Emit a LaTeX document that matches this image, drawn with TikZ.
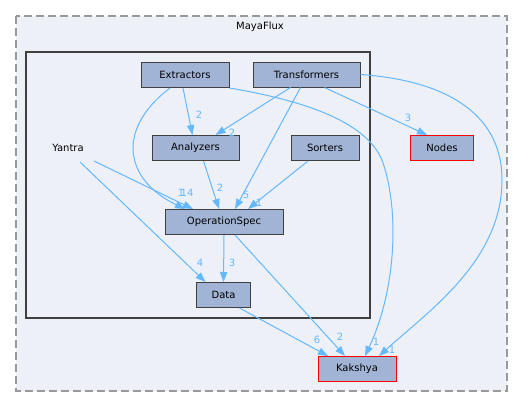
\documentclass[tikz,border=0pt]{standalone}
\usepackage{fontspec}
\setmainfont{DejaVu Sans}
\usetikzlibrary{arrows.meta,calc}

\definecolor{dirfill}{HTML}{A2B4D6}
\definecolor{dirline}{HTML}{404040}
\definecolor{clusterbg}{HTML}{EDF0F7}
\definecolor{edgeblue}{HTML}{63B8FF}
\definecolor{dashgray}{HTML}{999999}

\tikzset{every picture/.style={line width=0.75pt}}
\tikzset{
  dirbox/.style={draw=dirline, fill=dirfill, minimum height=18.75pt, inner sep=0pt, font=\fontsize{7.5}{9}\selectfont},
  redbox/.style={dirbox, draw=red},
  dep/.style={draw=edgeblue, -{Triangle[length=7.5pt,width=5.5pt]}},
  lbl/.style={text=edgeblue, inner sep=0pt, font=\fontsize{7.5}{9}\selectfont}
}

\begin{document}
\begin{tikzpicture}[x=0.75pt,y=0.75pt,yscale=-1,xscale=1]
\path[use as bounding box] (0,0) rectangle (528,408);

%Shape: Rectangle outer cluster
\draw [dashgray, fill=clusterbg, line width=1pt, dash pattern={on 6pt off 3pt}] (16,16) rectangle (507,391) ;
% Text Node
\node [font=\fontsize{7.5}{9}\selectfont] (mayaflux) at (260,27) {MayaFlux};
%Shape: Rectangle inner cluster
\draw [dirline, fill=clusterbg, line width=1.5pt] (26,52) rectangle (370,318) ;

% Text Node
\node [font=\fontsize{7.5}{9}\selectfont] (yan) at (68,148) {Yantra};
% Dir Nodes
\node [dirbox, minimum width=66pt] (ext) at (185,75) {Extractors};
\node [dirbox, minimum width=80.25pt] (trf) at (306.5,74.5) {Transformers};
\node [dirbox, minimum width=65.25pt] (ana) at (195.5,148) {Analyzers};
\node [dirbox, minimum width=51pt] (srt) at (325,148) {Sorters};
\node [dirbox, minimum width=88.5pt] (ops) at (224,222) {OperationSpec};
\node [dirbox, minimum width=40.5pt] (dat) at (223.5,295) {Data};
\node [redbox, minimum width=47.25pt] (nod) at (442,148) {Nodes};
\node [redbox, minimum width=58.5pt] (kak) at (357,369) {Kakshya};

%Straight Lines
\draw [dep] ($(ext.south)+(-2,0)$) -- ($(ana.north)+(-3,0)$) ;
\draw [dep] ($(trf.south)+(-16,0)$) -- ($(ana.north)+(20,0)$) ;
\draw [dep] ($(trf.south)+(18,0)$) -- ($(nod.north)+(-15,0)$) ;
\draw [dep] ($(ana.south)+(8,0)$) -- ($(ops.north)+(-5,0)$) ;
\draw [dep] ($(trf.south)+(-6,0)$) -- ($(ops.north)+(11,0)$) ;
\draw [dep] ($(srt.south)+(-17,0)$) -- ($(ops.north)+(24,0)$) ;
\draw [dep] ($(yan)+(26,13)$) -- ($(ops.north)+(-31,0)$) ;
\draw [dep] ($(yan)+(12,14)$) -- ($(dat.north)+(-18,0)$) ;
\draw [dep] (ops.south) -- (dat.north) ;
\draw [dep] ($(ops.south)+(11,0)$) -- ($(kak.north)+(-12,0)$) ;
\draw [dep] ($(dat.south)+(16,0)$) -- ($(kak.north)+(-29,0)$) ;

%Curves
\draw [dep] ($(ext.south)+(-15,0)$) .. controls (115,130) and (125,180) .. ($(ops.north)+(-39,0)$) ;
\draw [dep] (ext.south east) .. controls (300,100) and (365,120) .. (382,160) .. controls (400,210) and (396,290) .. ($(kak.north)+(8,0)$) ;
\draw [dep] (trf.east) .. controls (440,80) and (502,110) .. (502,180) .. controls (502,260) and (430,310) .. ($(kak.north)+(22,0)$) ;

% Edge labels
\node [lbl] (l1) at (199,115) {2};
\node [lbl] (l2) at (232,133) {2};
\node [lbl] (l3) at (408,118) {3};
\node [lbl] (l4) at (220,188) {2};
\node [lbl] (l5) at (246,195) {5};
\node [lbl] (l6) at (259,203) {1};
\node [lbl] (l7) at (187,193) {14};
\node [lbl] (l8) at (181,193) {1};
\node [lbl] (l9) at (200,263) {4};
\node [lbl] (l10) at (232,263) {3};
\node [lbl] (l11) at (340,337) {2};
\node [lbl] (l12) at (317,340) {6};
\node [lbl] (l13) at (376,342) {1};
\node [lbl] (l14) at (392,350) {1};

\end{tikzpicture}
\end{document}
